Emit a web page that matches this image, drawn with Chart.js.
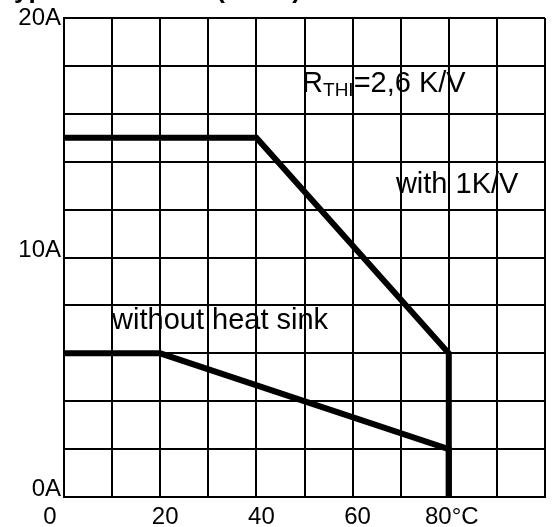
<!DOCTYPE html>
<html>
<head>
<meta charset="utf-8">
<script src="https://cdn.jsdelivr.net/npm/chart.js@4.4.1/dist/chart.umd.min.js"></script>
<style>
  html, body { margin: 0; padding: 0; background: #fff; }
  #wrap { width: 552px; height: 527px; }
</style>
</head>
<body>
<div id="wrap"><canvas id="derating" width="552" height="527"></canvas></div>
<script>
// ------------------------------------------------------- //
// Data
// ------------------------------------------------------ //
var tempWithSink = [0, 40, 80, 80];
var currWithSink = [15, 15, 6, 0];

var tempNoSink = [0, 20, 80, 80];
var currNoSink = [6, 6, 2, 0];

var xTickValues = [0, 20, 40, 60, 80];
var xTickLabels = ['0', '20', '40', '60', '80°C'];
var yTickValues = [0, 10, 20];
var yTickLabels = ['0A', '10A', '20A'];

function toPoints(xs, ys) {
    return xs.map(function (x, i) { return { x: x, y: ys[i] }; });
}

// ------------------------------------------------------- //
// Labels drawn on top of the grid
// ------------------------------------------------------ //
var labelPlugin = {
    id: 'labels',
    afterDraw: function (chart) {
        var ctx = chart.ctx;
        var xs = chart.scales.x, ys = chart.scales.y;
        var area = chart.chartArea;
        ctx.save();
        ctx.fillStyle = '#000';

        // cut-off heading at the very top
        ctx.font = 'bold 26px "Liberation Sans", Arial, sans-serif';
        ctx.textAlign = 'left';
        ctx.textBaseline = 'alphabetic';
        ctx.fillText('Typ. load current (Tamb)', 0, -2);

        // y tick labels
        ctx.font = '24px "Liberation Sans", Arial, sans-serif';
        ctx.textAlign = 'right';
        yTickValues.forEach(function (v, i) {
            var py = ys.getPixelForValue(v);
            if (v === 20) py += 8;
            ctx.fillText(yTickLabels[i], area.left - 3, py - 1);
        });

        // x tick labels
        ctx.textAlign = 'center';
        xTickValues.forEach(function (v, i) {
            var px = xs.getPixelForValue(v);
            if (v === 0) px -= 14;
            else if (v === 80) px += 3;
            else px += 5;
            ctx.fillText(xTickLabels[i], px, area.bottom + 27);
        });

        // curve notes
        ctx.font = '29px "Liberation Sans", Arial, sans-serif';
        ctx.textAlign = 'left';
        ctx.fillText('without heat sink', xs.getPixelForValue(10), ys.getPixelForValue(7));
        ctx.fillText('with 1K/V', xs.getPixelForValue(69), ys.getPixelForValue(12.7));

        var rx = xs.getPixelForValue(49.5), ry = ys.getPixelForValue(16.9);
        ctx.fillText('R', rx, ry);
        var w = ctx.measureText('R').width;
        ctx.font = '19px "Liberation Sans", Arial, sans-serif';
        ctx.fillText('THI', rx + w, ry + 4);
        w += ctx.measureText('THI').width;
        ctx.font = '29px "Liberation Sans", Arial, sans-serif';
        ctx.fillText('=2,6 K/V', rx + w, ry);

        ctx.restore();
    }
};

var ctx = document.getElementById('derating').getContext('2d');
var chart = new Chart(ctx, {
    type: 'line',
    data: {
        datasets: [{
            label: 'with 1K/V',
            data: toPoints(tempWithSink, currWithSink),
            borderColor: '#000',
            borderWidth: 6,
            pointRadius: 0,
            fill: false,
            tension: 0,
            borderJoinStyle: 'miter'
        }, {
            label: 'without heat sink',
            data: toPoints(tempNoSink, currNoSink),
            borderColor: '#000',
            borderWidth: 6,
            pointRadius: 0,
            fill: false,
            tension: 0,
            borderJoinStyle: 'miter'
        }]
    },
    options: {
        responsive: false,
        animation: false,
        devicePixelRatio: 1,
        layout: { padding: { left: 64, top: 18, right: 7, bottom: 30 } },
        plugins: {
            legend: { display: false },
            tooltip: { enabled: false },
            title: { display: false }
        },
        scales: {
            x: {
                type: 'linear',
                min: 0,
                max: 100,
                ticks: { display: false, stepSize: 10 },
                grid: { color: '#000', lineWidth: 2, drawTicks: false },
                border: { color: '#000', width: 2 },
                afterFit: function (scale) { scale.height = 0; }
            },
            y: {
                type: 'linear',
                min: 0,
                max: 20,
                ticks: { display: false, stepSize: 2 },
                grid: { color: '#000', lineWidth: 2, drawTicks: false },
                border: { color: '#000', width: 2 },
                afterFit: function (scale) { scale.width = 0; }
            }
        }
    },
    plugins: [labelPlugin]
});
</script>
</body>
</html>
